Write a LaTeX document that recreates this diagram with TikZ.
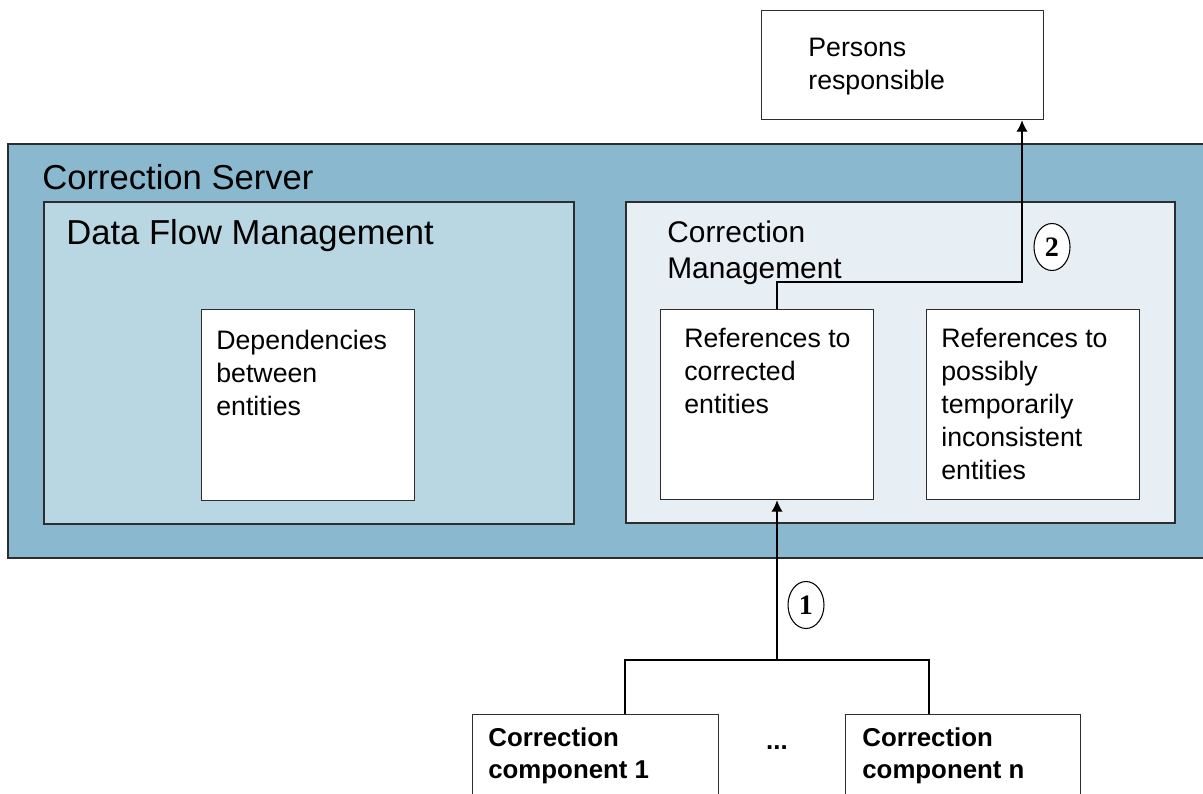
\documentclass[tikz,border=0pt]{standalone}
\usepackage{fontspec}
\setmainfont{Liberation Sans}
\newfontfamily\numfont{Liberation Serif}
\usetikzlibrary{arrows.meta,calc,shapes.geometric}

\begin{document}
\begin{tikzpicture}[>={Latex[length=6.5pt,width=6.5pt]}, x=0.02cm, y=-0.02cm]

% Colors
\definecolor{serverfill}{RGB}{138,185,207}
\definecolor{flowfill}{RGB}{185,215,226}
\definecolor{corrfill}{RGB}{231,238,244}
\definecolor{edgecol}{RGB}{45,45,45}

% Styles
\tikzset{
  box/.style={
    rectangle,
    draw=edgecol,
    fill=white,
    line width=0.75pt,
    anchor=north west,
    inner sep=0pt
  },
  area/.style={
    box,
    line width=1pt
  },
  txt/.style={
    anchor=north west,
    inner sep=0pt,
    align=left,
    font=\fontsize{15.2}{18.7}\selectfont
  },
  bigtxt/.style={
    txt,
    font=\fontsize{19.7}{23}\selectfont
  },
  midtxt/.style={
    txt,
    font=\fontsize{17}{20.4}\selectfont
  },
  boldtxt/.style={
    txt,
    font=\bfseries\fontsize{14.7}{18.7}\selectfont
  },
  stepmark/.style={
    ellipse,
    draw=black,
    fill=white,
    line width=0.6pt,
    minimum width=0.72cm,
    minimum height=0.94cm,
    inner sep=0pt,
    font=\numfont\bfseries\fontsize{16}{16}\selectfont
  },
  flow/.style={
    ->,
    line width=0.8pt,
    draw=black
  }
}

% Page frame
\useasboundingbox (0,0) rectangle (1203,794);

% Outer server
\node[area, fill=serverfill, minimum width=24.16cm, minimum height=8.28cm] (server) at (7,143) {};
\node[bigtxt] (serverlbl) at (42,164) {Correction Server};

% Data flow management
\node[area, fill=flowfill, minimum width=10.6cm, minimum height=6.44cm] (flowmgmt) at (43,201) {};
\node[bigtxt] (flowlbl) at (66,219) {Data Flow Management};
\node[box, minimum width=4.26cm, minimum height=3.82cm] (deps) at (201,309) {};
\node[txt] (depslbl) at (216,330) {Dependencies\\between\\entities};

% Correction management
\node[area, fill=corrfill, minimum width=10.98cm, minimum height=6.42cm] (corrmgmt) at (625,201) {};
\node[midtxt] (corrlbl) at (667,221) {Correction\\Management};
\node[box, minimum width=4.26cm, minimum height=3.8cm] (refcorr) at (660,309) {};
\node[txt] (refcorrlbl) at (684,328) {References to\\corrected\\entities};
\node[box, minimum width=4.26cm, minimum height=3.8cm] (refposs) at (926,309) {};
\node[txt] (refposslbl) at (941,328) {References to\\possibly\\temporarily\\inconsistent\\entities};

% Persons responsible
\node[box, minimum width=5.64cm, minimum height=2.18cm] (persons) at (761,10) {};
\node[txt] (personslbl) at (808,38) {Persons\\responsible};

% Correction components
\node[box, minimum width=4.92cm, minimum height=1.92cm] (comp1) at (472,714) {};
\node[boldtxt] (comp1lbl) at (488,727) {Correction\\component 1};
\node[box, minimum width=4.7cm, minimum height=1.92cm] (compn) at (845,714) {};
\node[boldtxt] (compnlbl) at (862,727) {Correction\\component n};
\node[font=\bfseries\fontsize{14.7}{14.7}\selectfont] (dots) at (777,748) {...};

% Connector coordinates
\coordinate (fork) at (777,660);
\coordinate (c1top) at (625,714);
\coordinate (cntop) at (929,714);
\coordinate (turn) at (1022,282);

% (1) components -> corrected references
\draw[line width=0.8pt] (c1top) |- (fork) -| (cntop);
\draw[flow] (fork) -- (fork |- refcorr.south);
\node[stepmark] (one) at (806,605) {1};

% (2) corrected references -> persons responsible
\draw[flow] (fork |- refcorr.north) |- (turn) -- (turn |- persons.south);
\node[stepmark] (two) at (1052,247) {2};

\end{tikzpicture}
\end{document}
